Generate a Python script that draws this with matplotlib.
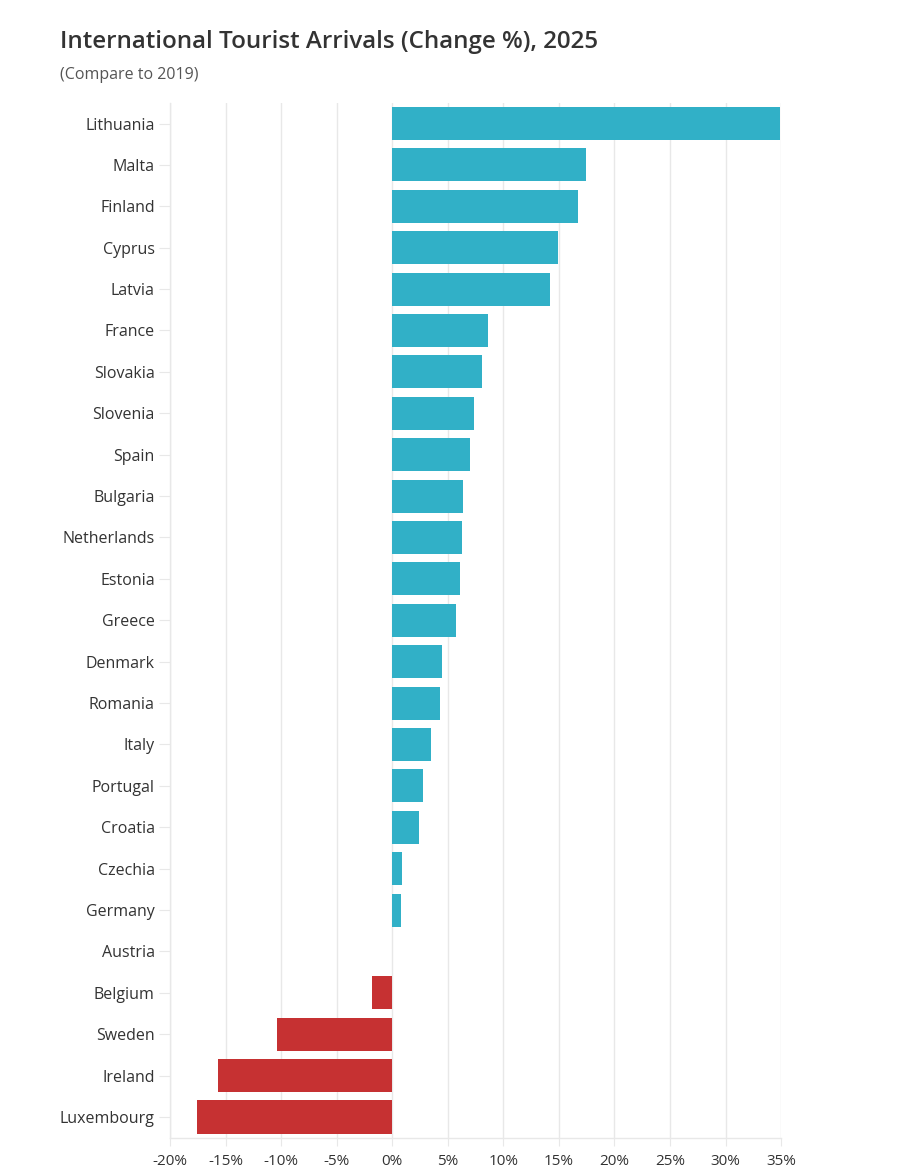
import matplotlib.pyplot as plt
from matplotlib.ticker import FuncFormatter

plt.rcParams["font.family"] = ["Open Sans", "DejaVu Sans"]

countries = [
    "Lithuania", "Malta", "Finland", "Cyprus", "Latvia", "France", "Slovakia",
    "Slovenia", "Spain", "Bulgaria", "Netherlands", "Estonia", "Greece",
    "Denmark", "Romania", "Italy", "Portugal", "Croatia", "Czechia", "Germany",
    "Austria", "Belgium", "Sweden", "Ireland", "Luxembourg",
]
change_pct = [
    34.9, 17.4, 16.7, 14.9, 14.2, 8.6, 8.1,
    7.4, 7.0, 6.4, 6.3, 6.1, 5.7,
    4.5, 4.3, 3.5, 2.8, 2.4, 0.9, 0.8,
    0.0, -1.8, -10.4, -15.7, -17.6,
]
x_ticks = [-20, -15, -10, -5, 0, 5, 10, 15, 20, 25, 30, 35]

POS_COLOR = "#31b0c7"
NEG_COLOR = "#c63132"
GRID_COLOR = "#e8e8e8"

fig = plt.figure(figsize=(9, 11.75), dpi=100)
ax = fig.add_axes([0.1889, 0.0317, 0.679, 0.8808])

y = list(range(len(countries)))
colors = [POS_COLOR if v >= 0 else NEG_COLOR for v in change_pct]
ax.barh(y, change_pct, height=0.8, color=colors, zorder=3)

ax.set_yticks(y)
ax.set_yticklabels(countries)
ax.set_ylim(len(countries) - 0.5, -0.5)

ax.set_xlim(-20, 35)
ax.set_xticks(x_ticks)
ax.xaxis.set_major_formatter(FuncFormatter(lambda v, _: f"{int(v)}%"))
ax.grid(axis="x", color=GRID_COLOR, linewidth=1, zorder=0)

for side in ["top", "right"]:
    ax.spines[side].set_visible(False)
for side in ["left", "bottom"]:
    ax.spines[side].set_color(GRID_COLOR)
    ax.spines[side].set_linewidth(1)

ax.tick_params(axis="y", length=8, color=GRID_COLOR, labelsize=11.5,
               labelcolor="#333333", pad=3)
ax.tick_params(axis="x", length=6, color=GRID_COLOR, labelsize=11,
               labelcolor="#333333", pad=6)

fig.text(60 / 900, 1 - 42 / 1175, "International Tourist Arrivals (Change %), 2025",
         fontsize=17.4, fontweight="semibold", color="#333333", va="center", ha="left")
fig.text(60 / 900, 1 - 75 / 1175, "(Compare to 2019)",
         fontsize=11.5, color="#555555", va="center", ha="left")

fig.savefig("out.png", dpi=100)
